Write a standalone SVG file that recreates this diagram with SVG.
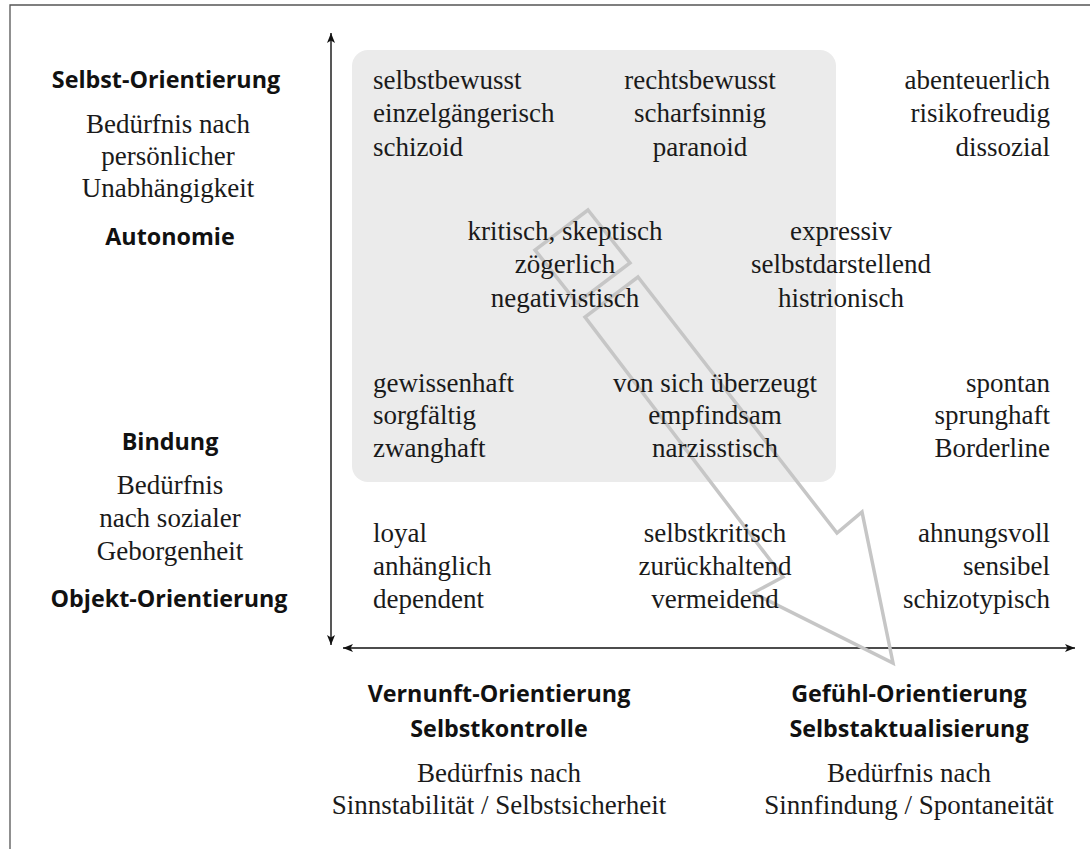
<svg xmlns="http://www.w3.org/2000/svg" width="1090" height="849" viewBox="0 0 1090 849">
<style>
.s{font-family:"Liberation Serif","Times New Roman",serif;font-size:27px;fill:#1a1a1a}
.b{font-family:"Open Sans","Noto Sans",sans-serif;font-weight:700;font-size:23.3px;fill:#111}
.m{text-anchor:middle}
.e{text-anchor:end}
.ax{stroke:#111;stroke-width:1.4;fill:none}
.big{fill:none;stroke:#c6c6c6;stroke-width:3.5;stroke-linejoin:miter}
</style>
<defs>
<marker id="ah" viewBox="0 0 10 8" refX="10" refY="4" markerWidth="10" markerHeight="8" markerUnits="userSpaceOnUse" orient="auto-start-reverse">
<path d="M0,0 L10,4 L0,8 L2.5,4 Z" fill="#111"/>
</marker>
</defs>
<rect width="1090" height="849" fill="#fff"/>
<path d="M10,849 V5 H1090" fill="none" stroke="#555" stroke-width="1.3"/>
<rect id="zone" x="352" y="50" width="484" height="432" rx="16" fill="#ebebeb"/>
<g id="connectors">
<line class="ax" x1="331" y1="645" x2="331" y2="33" marker-end="url(#ah)" marker-start="url(#ah)"/>
<line class="ax" x1="343" y1="648" x2="1075" y2="648" marker-end="url(#ah)" marker-start="url(#ah)"/>
<polygon class="big" points="588,210 630,263 577,303 535,250"/>
<polygon class="big" points="638,277 837,533 862,512 893,663 753,593 783,577 585,317"/>
</g>
<g id="left-top">
<text class="b m" x="166" y="88">Selbst-Orientierung</text>
<text class="s m" x="168" y="133">Bedürfnis nach</text>
<text class="s m" x="168" y="165">persönlicher</text>
<text class="s m" x="168" y="197">Unabhängigkeit</text>
<text class="b m" x="170" y="245">Autonomie</text>
</g>
<g id="left-bottom">
<text class="b m" x="170" y="450">Bindung</text>
<text class="s m" x="170" y="494">Bedürfnis</text>
<text class="s m" x="170" y="527">nach sozialer</text>
<text class="s m" x="170" y="560">Geborgenheit</text>
<text class="b m" x="169" y="607">Objekt-Orientierung</text>
</g>
<g id="n-schizoid">
<text class="s" x="373" y="89">selbstbewusst</text>
<text class="s" x="373" y="122">einzelgängerisch</text>
<text class="s" x="373" y="156">schizoid</text>
</g>
<g id="n-paranoid">
<text class="s m" x="700" y="89">rechtsbewusst</text>
<text class="s m" x="700" y="122">scharfsinnig</text>
<text class="s m" x="700" y="156">paranoid</text>
</g>
<g id="n-dissozial">
<text class="s e" x="1050" y="89">abenteuerlich</text>
<text class="s e" x="1050" y="122">risikofreudig</text>
<text class="s e" x="1050" y="156">dissozial</text>
</g>
<g id="n-negativistisch">
<text class="s m" x="565" y="240">kritisch, skeptisch</text>
<text class="s m" x="565" y="273">zögerlich</text>
<text class="s m" x="565" y="307">negativistisch</text>
</g>
<g id="n-histrionisch">
<text class="s m" x="841" y="240">expressiv</text>
<text class="s m" x="841" y="273">selbstdarstellend</text>
<text class="s m" x="841" y="307">histrionisch</text>
</g>
<g id="n-zwanghaft">
<text class="s" x="373" y="392">gewissenhaft</text>
<text class="s" x="373" y="424">sorgfältig</text>
<text class="s" x="373" y="457">zwanghaft</text>
</g>
<g id="n-narzisstisch">
<text class="s m" x="715" y="392">von sich überzeugt</text>
<text class="s m" x="715" y="424">empfindsam</text>
<text class="s m" x="715" y="457">narzisstisch</text>
</g>
<g id="n-borderline">
<text class="s e" x="1050" y="392">spontan</text>
<text class="s e" x="1050" y="424">sprunghaft</text>
<text class="s e" x="1050" y="457">Borderline</text>
</g>
<g id="n-dependent">
<text class="s" x="373" y="542">loyal</text>
<text class="s" x="373" y="575">anhänglich</text>
<text class="s" x="373" y="608">dependent</text>
</g>
<g id="n-vermeidend">
<text class="s m" x="715" y="542">selbstkritisch</text>
<text class="s m" x="715" y="575">zurückhaltend</text>
<text class="s m" x="715" y="608">vermeidend</text>
</g>
<g id="n-schizotypisch">
<text class="s e" x="1050" y="542">ahnungsvoll</text>
<text class="s e" x="1050" y="575">sensibel</text>
<text class="s e" x="1050" y="608">schizotypisch</text>
</g>
<g id="bottom-left">
<text class="b m" x="499" y="702">Vernunft-Orientierung</text>
<text class="b m" x="499" y="737">Selbstkontrolle</text>
<text class="s m" x="499" y="782">Bedürfnis nach</text>
<text class="s m" x="499" y="814">Sinnstabilität / Selbstsicherheit</text>
</g>
<g id="bottom-right">
<text class="b m" x="909" y="702">Gefühl-Orientierung</text>
<text class="b m" x="909" y="737">Selbstaktualisierung</text>
<text class="s m" x="909" y="782">Bedürfnis nach</text>
<text class="s m" x="909" y="814">Sinnfindung / Spontaneität</text>
</g>
</svg>
